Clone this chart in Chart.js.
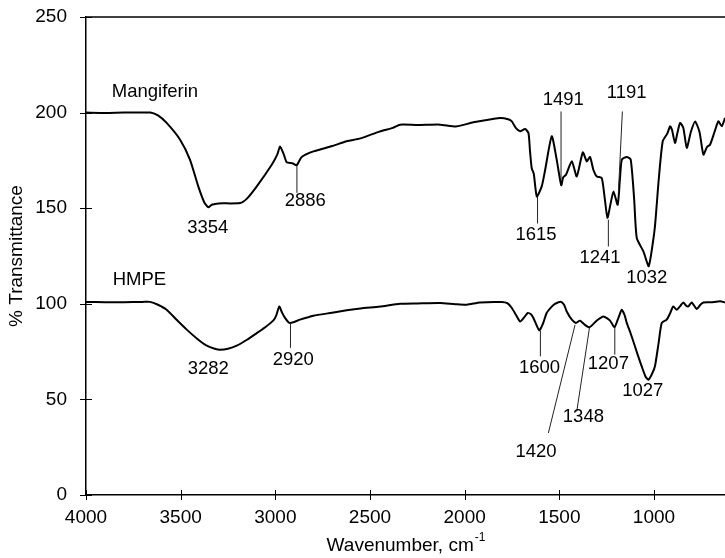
<!DOCTYPE html>
<html lang="en">
<head>
    <meta charset="UTF-8">
    <title>FTIR - Mangiferin / HMPE</title>
    <script src="https://cdn.jsdelivr.net/npm/chart.js"></script>
    <style>
        html, body { margin: 0; padding: 0; background: #fff; }
        canvas { display: block; }
    </style>
</head>
<body>
    <canvas id="ftirChart" width="725" height="558"></canvas>

    <script>
        // Mangiferin spectrum (wavenumber, % transmittance)
        var waveMangiferin = [4000, 3900, 3800, 3700, 3660, 3620, 3574, 3503, 3451, 3407, 3375, 3354, 3336, 3300, 3186, 3150, 3098, 3019, 2990, 2975, 2955, 2940, 2910, 2887, 2861, 2799, 2700, 2623, 2550, 2447, 2380, 2341, 2250, 2130, 2042, 1954, 1813, 1770, 1751, 1730, 1707, 1681, 1663, 1655, 1646, 1635, 1619, 1593, 1575, 1540, 1514, 1490, 1480, 1465, 1434, 1408, 1376, 1355, 1338, 1320, 1302, 1276, 1260, 1246, 1230, 1214, 1192, 1180, 1170, 1144, 1123, 1105, 1091, 1056, 1038, 1028, 1015, 995, 975, 954, 930, 915, 905, 889, 875, 862, 845, 827, 805, 783, 760, 739, 720, 704, 680, 660, 642, 625];
        var transMangiferin = [200, 199.8, 200, 200, 200, 198.5, 194.6, 185.8, 175.4, 161.4, 153, 150.5, 151.8, 152.5, 152.7, 155, 161.4, 172.7, 178, 182.3, 178, 174, 173.5, 172.5, 176.8, 179.7, 182.5, 185, 186.5, 190.2, 192, 193.7, 193.5, 193.7, 192.8, 194.9, 197.2, 196.5, 195.4, 192, 190.2, 191.4, 189.3, 180, 171, 168, 156.2, 161.4, 170, 187.6, 175.4, 162, 166, 167.5, 174.5, 166.6, 179.2, 174.5, 176.8, 170, 166.6, 165.8, 155, 145, 152, 158.8, 151.8, 165, 175.4, 176.8, 175.4, 155, 134.4, 127.4, 122, 119.6, 126, 140.5, 165, 185, 189, 192.8, 191, 184.1, 190, 194.6, 192, 181.5, 190, 195.4, 190, 178, 182, 183.2, 190, 195.4, 192.8, 197.2];

        // HMPE spectrum
        var waveHmpe = [4000, 3900, 3800, 3700, 3662, 3620, 3574, 3520, 3468, 3410, 3362, 3320, 3292, 3250, 3204, 3150, 3098, 3050, 3010, 2995, 2979, 2965, 2949, 2926, 2900, 2870, 2799, 2700, 2623, 2550, 2447, 2341, 2250, 2130, 2050, 1989, 1919, 1804, 1775, 1751, 1725, 1707, 1685, 1667, 1650, 1637, 1606, 1585, 1567, 1540, 1523, 1493, 1475, 1461, 1434, 1412, 1391, 1365, 1341, 1320, 1302, 1267, 1232, 1209, 1188, 1170, 1155, 1144, 1125, 1109, 1085, 1065, 1045, 1030, 1012, 995, 975, 959, 933, 915, 898, 880, 860, 845, 830, 819, 801, 774, 755, 739, 700, 651, 625];
        var transHmpe = [101, 100.8, 100.8, 101, 101, 99.5, 96.9, 91.5, 86.5, 81.5, 78.1, 76.5, 76, 76.5, 78.1, 81.2, 84.7, 88, 91.3, 94, 98.6, 95.5, 92.6, 90, 90.5, 91.7, 93.8, 95.3, 96.6, 97.6, 98.6, 100, 100.2, 100.4, 99.8, 99.5, 100.7, 100.9, 100.3, 97.8, 93.5, 90.8, 93, 95.2, 94.5, 92.6, 86.1, 90, 95.2, 98.5, 99.9, 101.1, 99.5, 96, 91.7, 90, 91.2, 89, 87.7, 89.5, 91.3, 93.4, 91.2, 87.7, 92.6, 96.9, 94, 90, 85, 80.3, 73, 67.3, 62, 60.3, 63, 67.3, 80, 90, 91.7, 95, 98.6, 96.9, 99, 100.7, 99, 98.6, 100.7, 97.3, 99.5, 100.7, 100.8, 101.3, 100.7];

        // axis ticks
        var xTicks = [4000, 3500, 3000, 2500, 2000, 1500, 1000];
        var yTicks = [0, 50, 100, 150, 200, 250];

        // sample names (data coords of the text start)
        var sampleNames = ['Mangiferin', 'HMPE'];
        var sampleNameX = [3864, 3859];
        var sampleNameY = [211, 112.6];

        // peak labels: text centre and optional leader line, in data coords
        var peakLabels = ['3354', '2886', '1615', '1491', '1241', '1191', '1032', '3282', '2920', '1600', '1420', '1348', '1207', '1027'];
        var peakLabelX = [3357, 2842, 1623, 1479, 1285, 1144, 1038, 3354, 2905, 1605, 1623, 1373, 1241, 1059];
        var peakLabelY = [139.6, 153.6, 136.1, 206.7, 124, 210.2, 113.5, 65.9, 70.8, 66.4, 22.3, 41.1, 68.7, 54.7];
        // leader lines [x1, y1, x2, y2], null when no line
        var peakLines = [
            null,
            [2886, 172.5, 2886, 158],
            [1615, 156, 1615, 142],
            [1491, 165, 1491, 200.6],
            [1241, 144, 1241, 130],
            [1188, 158, 1167, 200.6],
            null,
            null,
            [2920, 90, 2920, 77],
            [1600, 86, 1600, 72.5],
            [1417, 89, 1558, 32.4],
            [1341, 87.3, 1408, 43.7],
            [1207, 87.7, 1207, 73.4],
            null
        ];

        var FONT = "'Liberation Sans', Arial, sans-serif";

        function toPoints(xs, ys) {
            var pts = [];
            for (var i = 0; i < xs.length; i++) {
                pts.push({ x: xs[i], y: ys[i] });
            }
            return pts;
        }

        // decorations: top border, crossing ticks, labels, x title with superscript
        var decorPlugin = {
            id: 'decor',
            afterDraw: function (chart) {
                var ctx = chart.ctx;
                var area = chart.chartArea;
                var xs = chart.scales.x;
                var ys = chart.scales.y;
                ctx.save();

                // top border
                ctx.strokeStyle = '#000';
                ctx.lineWidth = 1.5;
                ctx.beginPath();
                ctx.moveTo(area.left, area.top);
                ctx.lineTo(area.right, area.top);
                ctx.stroke();

                // crossing tick marks
                ctx.lineWidth = 1;
                ctx.beginPath();
                yTicks.forEach(function (v) {
                    var py = Math.round(ys.getPixelForValue(v)) + 0.5;
                    ctx.moveTo(area.left - 6, py);
                    ctx.lineTo(area.left + 6, py);
                });
                xTicks.forEach(function (v) {
                    var px = Math.round(xs.getPixelForValue(v)) + 0.5;
                    ctx.moveTo(px, area.bottom - 5);
                    ctx.lineTo(px, area.bottom + 5);
                });
                ctx.stroke();

                // leader lines
                ctx.strokeStyle = '#222';
                ctx.lineWidth = 1;
                ctx.beginPath();
                peakLines.forEach(function (l) {
                    if (!l) return;
                    ctx.moveTo(xs.getPixelForValue(l[0]), ys.getPixelForValue(l[1]));
                    ctx.lineTo(xs.getPixelForValue(l[2]), ys.getPixelForValue(l[3]));
                });
                ctx.stroke();

                // peak labels
                ctx.fillStyle = '#000';
                ctx.font = '18.5px ' + FONT;
                ctx.textAlign = 'center';
                ctx.textBaseline = 'middle';
                for (var i = 0; i < peakLabels.length; i++) {
                    ctx.fillText(peakLabels[i], xs.getPixelForValue(peakLabelX[i]), ys.getPixelForValue(peakLabelY[i]));
                }

                // sample names
                ctx.textAlign = 'left';
                for (var j = 0; j < sampleNames.length; j++) {
                    ctx.fillText(sampleNames[j], xs.getPixelForValue(sampleNameX[j]), ys.getPixelForValue(sampleNameY[j]));
                }

                // x axis title with superscript
                var main = 'Wavenumber, cm';
                var sup = '-1';
                ctx.font = '19px ' + FONT;
                var wMain = ctx.measureText(main).width;
                ctx.font = '12px ' + FONT;
                var wSup = ctx.measureText(sup).width;
                var cx = (area.left + area.right) / 2;
                var x0 = cx - (wMain + wSup) / 2;
                var ty = 546;
                ctx.textAlign = 'left';
                ctx.font = '19px ' + FONT;
                ctx.fillText(main, x0, ty);
                ctx.font = '12px ' + FONT;
                ctx.fillText(sup, x0 + wMain + 1, ty - 8);

                ctx.restore();
            }
        };

        Chart.defaults.font.family = FONT;
        Chart.defaults.color = '#000';

        var ftirChart = new Chart(document.getElementById('ftirChart'), {
            type: 'scatter',
            data: {
                datasets: [{
                    label: 'Mangiferin',
                    data: toPoints(waveMangiferin, transMangiferin),
                    showLine: true,
                    borderColor: '#000',
                    borderWidth: 2,
                    pointRadius: 0,
                    tension: 0.2
                }, {
                    label: 'HMPE',
                    data: toPoints(waveHmpe, transHmpe),
                    showLine: true,
                    borderColor: '#000',
                    borderWidth: 2,
                    pointRadius: 0,
                    tension: 0.2
                }]
            },
            options: {
                responsive: false,
                animation: false,
                devicePixelRatio: 1,
                layout: { padding: { top: 17, right: 0, bottom: 0, left: 0 } },
                plugins: {
                    legend: { display: false },
                    tooltip: { enabled: false }
                },
                scales: {
                    x: {
                        type: 'linear',
                        reverse: true,
                        min: 625,
                        max: 4000,
                        grid: { display: false, drawTicks: false },
                        border: { display: true, color: '#000', width: 1.5 },
                        ticks: {
                            stepSize: 500,
                            autoSkip: false,
                            maxRotation: 0,
                            padding: 11,
                            font: { size: 19 },
                            callback: function (v) { return String(v); }
                        },
                        afterBuildTicks: function (scale) {
                            scale.ticks = xTicks.map(function (v) { return { value: v }; });
                        },
                        afterFit: function (scale) {
                            scale.height = 63;
                            scale.paddingLeft = 0;
                            scale.paddingRight = 0;
                        }
                    },
                    y: {
                        min: 0,
                        max: 250,
                        grid: { display: false, drawTicks: false },
                        border: { display: true, color: '#000', width: 1.5 },
                        ticks: {
                            stepSize: 50,
                            padding: 19,
                            font: { size: 19 },
                            callback: function (v) { return String(v); }
                        },
                        afterBuildTicks: function (scale) {
                            scale.ticks = yTicks.map(function (v) { return { value: v }; });
                        },
                        title: {
                            display: true,
                            text: '% Transmittance',
                            font: { size: 19 },
                            padding: { top: 5, bottom: 0 }
                        },
                        afterFit: function (scale) {
                            scale.width = 86;
                            scale.paddingTop = 0;
                            scale.paddingBottom = 0;
                        }
                    }
                }
            },
            plugins: [decorPlugin]
        });
    </script>
</body>
</html>
